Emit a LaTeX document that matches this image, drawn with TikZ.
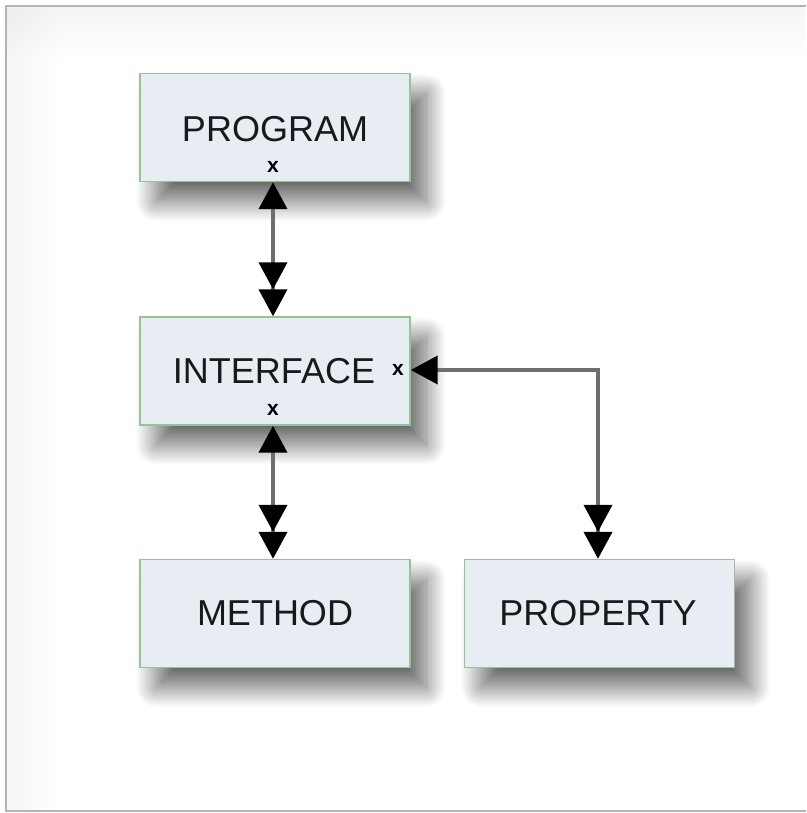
\documentclass[tikz,border=0pt]{standalone}
\usepackage{fontspec}
\setmainfont{Liberation Sans}
\usetikzlibrary{arrows.meta,shadows.blur,fadings}
\definecolor{boxfill}{HTML}{E8ECF3}
\definecolor{boxline}{HTML}{94C494}
\definecolor{conn}{HTML}{6E6E6E}
\definecolor{framec}{HTML}{B4B4B4}
\tikzset{
  entity/.style={draw=boxline, line width=1.4pt, fill=boxfill,
    minimum width=270pt, minimum height=108pt, inner sep=0pt,
    blur shadow={shadow xshift=16pt, shadow yshift=-20pt, shadow blur radius=20pt,
      shadow blur steps=30, shadow opacity=60}},
  lbl/.style={font=\fontsize{36pt}{40pt}\selectfont, inner sep=0pt, text=black!90},
  xmark/.style={font=\fontsize{21pt}{22pt}\selectfont\bfseries, inner sep=0pt},
  link/.style={draw=conn, line width=4pt,
    {Triangle[width=28pt,length=27pt,color=black]}-{Triangle[width=28pt,length=27pt,color=black]Triangle[width=28pt,length=27pt,color=black]}},
}
\begin{document}
\begin{tikzpicture}[x=1pt,y=-1pt]
\useasboundingbox (0,0) rectangle (806,813);
% frame with faint inner glow
\fill[black, opacity=0.04, path fading=south] (7,7) rectangle (806,62);
\fill[black, opacity=0.035, path fading=east] (7,7) rectangle (62,810);
\draw[framec, line width=2.5pt] (806,6) -- (6,6) -- (6,811) -- (806,811);
% boxes
\node[entity] (prog) at (275,127.5) {};
\node[entity] (intf) at (275,371) {};
\node[entity] (meth) at (275,613.5) {};
\node[entity] (prop) at (599.5,613.5) {};
% labels
\node[lbl] (progt) at (275,129) {PROGRAM};
\node[xmark] (progx) at (273,167) {x};
\node[lbl] (intft) at (274,371) {INTERFACE};
\node[xmark] (intfx) at (398,370) {x};
\node[xmark] (intfy) at (273,410) {x};
\node[lbl] (metht) at (275,613) {METHOD};
\node[lbl] (propt) at (598,613) {PROPERTY};
% connectors
\coordinate (c1) at ([xshift=-2pt]prog.south);
\coordinate (c2) at ([xshift=-2pt]intf.north);
\coordinate (c3) at ([xshift=-2pt]intf.south);
\coordinate (c4) at ([xshift=-2pt]meth.north);
\coordinate (c5) at (intf.east |- intfx);
\coordinate (c6) at ([xshift=-1.5pt]prop.north);
\draw[link] (c1) -- (c2);
\draw[link] (c3) -- (c4);
\draw[link] (c5) -| (c6);
\end{tikzpicture}
\end{document}
